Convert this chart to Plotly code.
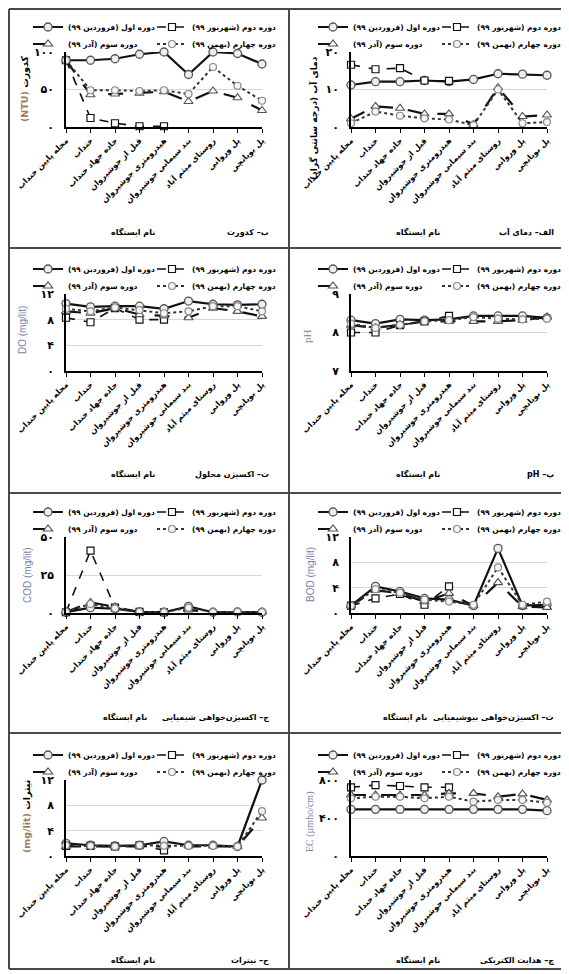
import plotly.graph_objects as go

# window is 569x974; page body adds an 8px margin, so the figure is sized to fit inside
OFF = 8
FW, FH = 569 - OFF, 974 - OFF
FA = "DejaVu Sans"

# ---------------- data ----------------
stations = ["محله پایین خنداب", "خنداب", "جاده جهاد خنداب", "قبل از جوشیروان",
            "هیدرومتری جوشیروان", "بند سیمانی جوشیروان", "روستای میثم آباد",
            "پل وروانی", "پل بویانچی"]
period_names = ["دوره اول (فروردین ۹۹)", "دوره دوم (شهریور ۹۹)",
                "دوره سوم (آذر ۹۹)", "دوره چهارم (بهمن ۹۹)"]

turbidity_p1 = [89, 89, 91, 97, 100, 70, 100, 98, 84]
turbidity_p2 = [89, 12, 5, 1, 1, None, None, None, None]
turbidity_p3 = [89, 43, 44, 45, 47, 34, 48, 39, 22]
turbidity_p4 = [89, 49, 49, 48, 49, 44, 80, 55, 35]

temperature_p1 = [11.2, 12.1, 12.1, 12.4, 12.1, 12.7, 14.2, 14.1, 13.8]
temperature_p2 = [16.6, 15.4, 15.7, 12.4, 12.3, None, None, None, None]
temperature_p3 = [2.2, 5.5, 5.0, 3.5, 3.5, 0.7, 10.5, 2.8, 3.2]
temperature_p4 = [1.0, 4.1, 3.0, 2.3, 2.0, 0.5, 10.0, 1.0, 1.3]

do_p1 = [10.5, 10.0, 10.1, 10.1, 9.7, 10.9, 10.4, 10.3, 10.4]
do_p2 = [8.3, 7.6, 9.8, 8.0, 8.0, None, None, None, None]
do_p3 = [9.3, 9.0, 9.8, 8.8, 8.6, 8.3, 9.8, 9.3, 8.5]
do_p4 = [9.7, 9.3, 9.9, 9.5, 9.0, 9.3, 10.1, 10.1, 9.3]

ph_p1 = [8.32, 8.23, 8.34, 8.32, 8.34, 8.43, 8.43, 8.43, 8.38]
ph_p2 = [8.0, 8.0, 8.19, 8.29, 8.43, None, None, None, None]
ph_p3 = [8.19, 8.12, 8.2, 8.29, 8.29, 8.29, 8.29, 8.32, 8.4]
ph_p4 = [8.23, 8.12, 8.2, 8.29, 8.32, 8.4, 8.36, 8.34, 8.36]

cod_p1 = [0.5, 3.5, 2.8, 0.7, 0.5, 4.4, 0.5, 0.7, 0.5]
cod_p2 = [0.5, 41, 3.5, 0.7, 0.5, None, None, None, None]
cod_p3 = [0.5, 7.0, 4.0, 0.5, 0.5, 2.0, 0.5, 0.5, 0.5]
cod_p4 = [0.8, 6.0, 3.0, 0.7, 0.6, 3.5, 0.6, 0.7, 0.6]

bod_p1 = [1.15, 4.2, 3.4, 2.3, 2.1, 1.15, 10.2, 1.15, 1.3]
bod_p2 = [1.15, 2.3, 3.0, 1.3, 4.2, None, None, None, None]
bod_p3 = [1.15, 3.6, 3.1, 1.8, 3.1, 1.15, 4.8, 1.0, 0.9]
bod_p4 = [1.15, 3.75, 3.2, 2.1, 1.8, 1.3, 7.2, 1.3, 1.8]

nitrate_p1 = [2.0, 1.7, 1.6, 1.7, 2.3, 1.7, 1.7, 1.5, 12.0]
nitrate_p2 = [1.6, 1.6, 1.5, 1.7, 0.9, None, None, None, None]
nitrate_p3 = [1.5, 1.5, 1.5, 1.6, 1.5, 1.6, 1.6, 1.5, 6.0]
nitrate_p4 = [1.7, 1.6, 1.5, 1.7, 1.6, 1.6, 1.6, 1.5, 7.1]

ec_p1 = [491, 491, 491, 491, 491, 491, 491, 491, 477]
ec_p2 = [723, 747, 737, 723, 723, None, None, None, None]
ec_p3 = [642, 642, 642, 642, 660, 660, 625, 653, 590]
ec_p4 = [607, 625, 625, 607, 625, 572, 590, 590, 561]

turbidity_ticks = [0, 50, 100]
turbidity_ticktext = ["۰", "۵۰", "۱۰۰"]
temperature_ticks = [0, 10, 20]
temperature_ticktext = ["۰", "۱۰", "۲۰"]
do_ticks = [0, 4, 8, 12]
do_ticktext = ["۰", "۴", "۸", "۱۲"]
ph_ticks = [7, 8, 9]
ph_ticktext = ["۷", "۸", "۹"]
cod_ticks = [0, 25, 50]
cod_ticktext = ["۰", "۲۵", "۵۰"]
bod_ticks = [0, 4, 8, 12]
bod_ticktext = ["۰", "۴", "۸", "۱۲"]
nitrate_ticks = [0, 4, 8, 12]
nitrate_ticktext = ["۰", "۴", "۸", "۱۲"]
ec_ticks = [0, 400, 800]
ec_ticktext = ["۰", "۴۰۰", "۸۰۰"]


def rtl(s):
    return "\u202b" + s + "\u202c"


def px(xw):
    return (xw - OFF) / FW


def py(yw):
    return 1 - (yw - OFF) / FH


BROWN = "#a27c5c"
BLUE = "#7986a6"
FA_BOLD10 = dict(family=FA, size=9.5, color="black", weight="bold")

panels = [
    dict(series=[turbidity_p1, turbidity_p2, turbidity_p3, turbidity_p4], col=0, row=0,
         yrange=[0, 100], tv=turbidity_ticks, tt=turbidity_ticktext,
         ytitle="<span style='color:%s'>(NTU)</span> کدورت" % BROWN, yt_font=FA_BOLD10,
         yt_pos=(25, 89), xt_x=133, caption=rtl("ب– کدورت")),
    dict(series=[temperature_p1, temperature_p2, temperature_p3, temperature_p4], col=1, row=0,
         yrange=[0, 20], tv=temperature_ticks, tt=temperature_ticktext,
         ytitle=rtl("دمای آب (درجه سانتی گراد)"), yt_font=dict(family=FA, size=9, color="black", weight="bold"),
         yt_pos=(314, 118), xt_x=418, caption=rtl("الف– دمای آب")),
    dict(series=[do_p1, do_p2, do_p3, do_p4], col=0, row=1,
         yrange=[0, 12], tv=do_ticks, tt=do_ticktext,
         ytitle="DO (mg/lit)", yt_font=dict(family="Liberation Sans", size=10, color=BLUE),
         yt_pos=(23, 330), xt_x=133, caption=rtl("ت– اکسیژن محلول")),
    dict(series=[ph_p1, ph_p2, ph_p3, ph_p4], col=1, row=1,
         yrange=[7, 9], tv=ph_ticks, tt=ph_ticktext,
         ytitle="pH", yt_font=dict(family="Liberation Serif", size=11, color=BLUE),
         yt_pos=(307, 336), xt_x=418, caption=rtl("پ– pH")),
    dict(series=[cod_p1, cod_p2, cod_p3, cod_p4], col=0, row=2,
         yrange=[0, 50], tv=cod_ticks, tt=cod_ticktext,
         ytitle="COD (mg/lit)", yt_font=dict(family="Liberation Sans", size=10, color=BLUE),
         yt_pos=(27, 575), xt_x=125, caption=rtl("ج– اکسیژن‌خواهی شیمیایی")),
    dict(series=[bod_p1, bod_p2, bod_p3, bod_p4], col=1, row=2,
         yrange=[0, 12], tv=bod_ticks, tt=bod_ticktext,
         ytitle="BOD (mg/lit)", yt_font=dict(family="Liberation Sans", size=10, color=BLUE),
         yt_pos=(310, 575), xt_x=405, caption=rtl("ث– اکسیژن‌خواهی بیوشیمیایی")),
    dict(series=[nitrate_p1, nitrate_p2, nitrate_p3, nitrate_p4], col=0, row=3,
         yrange=[0, 12], tv=nitrate_ticks, tt=nitrate_ticktext,
         ytitle="<span style='color:%s'>(mg/lit)</span> نیترات" % BROWN, yt_font=FA_BOLD10,
         yt_pos=(27, 817), xt_x=133, caption=rtl("ح– نیترات")),
    dict(series=[ec_p1, ec_p2, ec_p3, ec_p4], col=1, row=3,
         yrange=[0, 800], tv=ec_ticks, tt=ec_ticktext,
         ytitle="EC (µmho/cm)", yt_font=dict(family="Liberation Serif", size=10, color=BLUE),
         yt_pos=(310, 822), xt_x=418, caption=rtl("چ– هدایت الکتریکی")),
]

# ---------------- layout geometry (window pixels) ----------------
COLS = [(66, 262), (351, 547)]
COL_X0 = [0, 285]
ROWS = [(52, 127), (294, 371), (537, 613), (780, 856)]

styles = [
    dict(line=dict(color="#111111", width=2.2, dash="solid"),
         marker=dict(symbol="circle", size=8, color="#eeeeee", line=dict(color="#555555", width=1.3))),
    dict(line=dict(color="#111111", width=1.6, dash="dash"),
         marker=dict(symbol="square", size=7, color="white", line=dict(color="#111111", width=1.2))),
    dict(line=dict(color="#111111", width=2.2, dash="longdash"),
         marker=dict(symbol="triangle-up", size=8, color="white", line=dict(color="#555555", width=1.2))),
    dict(line=dict(color="#333333", width=2, dash="dot"),
         marker=dict(symbol="circle", size=7, color="#f4f4f4", line=dict(color="#888888", width=1.2))),
]

fig = go.Figure()
layout = dict(width=FW, height=FH, margin=dict(l=0, r=0, t=0, b=0, autoexpand=False),
              paper_bgcolor="white", plot_bgcolor="white", showlegend=True)
annotations = []
shapes = []

xs = list(range(len(stations)))

for i, p in enumerate(panels):
    sfx = "" if i == 0 else str(i + 1)
    x0, x1 = COLS[p["col"]]
    ytop, ybot = ROWS[p["row"]]
    layout["xaxis" + sfx] = dict(
        domain=[px(x0), px(x1)], anchor="y" + sfx, range=[0, 8],
        tickmode="array", tickvals=xs, ticktext=stations, tickangle=-45,
        tickfont=dict(family=FA, size=8, color="black", weight="bold"),
        showline=True, linecolor="black", linewidth=1.5, showgrid=False, zeroline=False,
        ticks="outside", ticklen=4, tickcolor="black", tickwidth=1, automargin=False)
    layout["yaxis" + sfx] = dict(
        domain=[py(ybot), py(ytop)], anchor="x" + sfx, range=p["yrange"],
        tickmode="array", tickvals=p["tv"], ticktext=p["tt"],
        tickfont=dict(family=FA, size=11, color="black", weight="bold"),
        showline=True, linecolor="black", linewidth=1.5, showgrid=True,
        gridcolor="#d6d6d6", gridwidth=1, zeroline=False, ticks="", ticklabelstandoff=8,
        automargin=False)

    for k in range(4):
        legidx = 2 * i + 1 + (k // 2)
        legname = "legend" if legidx == 1 else "legend%d" % legidx
        fig.add_trace(go.Scatter(
            x=xs, y=p["series"][k], name=rtl(period_names[k]), mode="lines+markers",
            line=styles[k]["line"], marker=styles[k]["marker"], cliponaxis=False,
            xaxis="x" + sfx, yaxis="y" + sfx, legend=legname))

    # legends (two rows per panel)
    cx = COL_X0[p["col"]]
    for r, yc in enumerate([ytop - 25, ytop - 8]):
        legidx = 2 * i + 1 + r
        legname = "legend" if legidx == 1 else "legend%d" % legidx
        layout[legname] = dict(
            orientation="h", x=px(cx + 28), xanchor="left",
            y=py(yc - 14.5), yanchor="top", bgcolor="rgba(0,0,0,0)",
            font=dict(family=FA, size=7.5, color="black", weight="bold"),
            itemwidth=30, entrywidth=79, entrywidthmode="pixels")

    # y title
    yx, yy = p["yt_pos"]
    annotations.append(dict(text=p["ytitle"], x=px(yx), y=py(yy), xref="paper", yref="paper",
                            xanchor="center", yanchor="middle", textangle=-90, showarrow=False,
                            font=p["yt_font"]))
    # x title and caption
    ty = ytop + 180
    annotations.append(dict(text="نام ایستگاه", x=px(p["xt_x"]), y=py(ty), xref="paper", yref="paper",
                            xanchor="center", yanchor="middle", showarrow=False,
                            font=dict(family=FA, size=8, color="black", weight="bold")))
    annotations.append(dict(text=p["caption"], x=px(cx + 271), y=py(ty),
                            xref="paper", yref="paper", xanchor="right", yanchor="middle", showarrow=False,
                            font=dict(family=FA, size=8, color="black", weight="bold")))

# frame
FR = "#4a4a4a"


def hline(y, xa, xb):
    shapes.append(dict(type="line", xref="paper", yref="paper", x0=px(xa), x1=px(xb),
                       y0=py(y), y1=py(y), line=dict(color=FR, width=2)))


def vline(x, ya, yb):
    shapes.append(dict(type="line", xref="paper", yref="paper", x0=px(x), x1=px(x),
                       y0=py(ya), y1=py(yb), line=dict(color=FR, width=2)))


hline(9, 9, 566)
hline(969, 9, 566)
vline(9, 9, 969)
vline(566, 9, 969)
vline(289, 9, 969)
for yy in (248, 493, 733):
    hline(yy, 9, 566)

layout["annotations"] = annotations
layout["shapes"] = shapes
fig.update_layout(**layout)
fig.write_html("out.html")
